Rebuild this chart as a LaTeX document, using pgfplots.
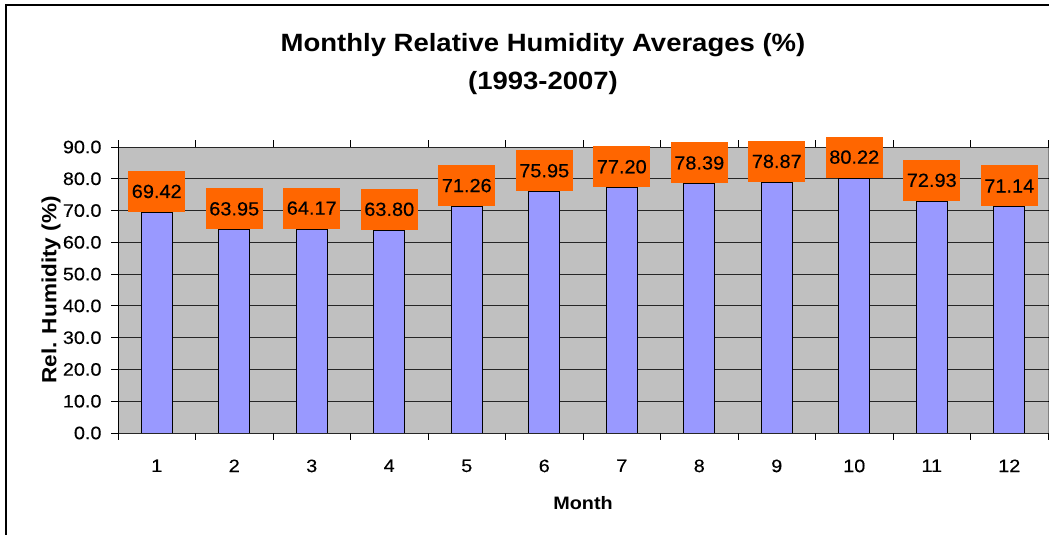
\documentclass[border=0pt]{standalone}
\usepackage{pgfplots}
\pgfplotsset{compat=1.18}
\usepackage{fontspec}
\setmainfont{Liberation Sans}[FakeStretch=1.1]
\newfontfamily\lblfont{Liberation Sans}[FakeStretch=1.05, FakeBold=0.4]
\newfontfamily\numfont{Liberation Sans}[FakeStretch=1.1, FakeBold=0.3]
\definecolor{plotgray}{HTML}{C0C0C0}
\definecolor{barblue}{HTML}{9999FF}
\definecolor{lblorange}{HTML}{FF6600}
\begin{document}
\begin{tikzpicture}[x=1pt,y=1pt]
\path[use as bounding box] (0,0) rectangle (1049,535);
\draw[line width=1.6pt, line cap=rect] (6,0) -- (6,530) -- (1049,530);
\node[font=\bfseries\fontsize{25}{30}\selectfont] at (543,490) {Monthly Relative Humidity Averages (\%)};
\node[font=\bfseries\fontsize{25}{30}\selectfont] at (543,452) {(1993-2007)};
\begin{axis}[
  at={(118pt,102pt)}, anchor=south west,
  scale only axis, width=930pt, height=286pt,
  xmin=0.5, xmax=12.5, ymin=0, ymax=90,
  axis background/.style={fill=plotgray, draw=gray},
  axis line style={draw=none},
  xtick={1,...,12},
  major x tick style={draw=none},
  minor xtick={0.5,1.5,...,12.5},
  ytick={0,10,...,90},
  tick align=outside,
  major tick length=7pt, minor tick length=7pt,
  tick style={black, line width=0.8pt},
  ymajorgrids, grid style={black!85, line width=0.8pt},
  /pgf/number format/assume math mode=true,
  yticklabel={\pgfmathprintnumber[fixed,fixed zerofill,precision=1]{\tick}},
  tick label style={font=\numfont\fontsize{18}{21}\selectfont},
  yticklabel style={xshift=-6pt},
  xticklabel style={yshift=-16pt},
  xlabel={Month}, ylabel={Rel. Humidity (\%)},
  xlabel style={font=\bfseries\fontsize{18}{21}\selectfont, at={(axis description cs:0.5,0)}, anchor=center, yshift=-70pt},
  ylabel style={font=\bfseries\fontsize{20.5}{24}\selectfont, at={(axis description cs:0,0.5)}, anchor=center, yshift=67pt},
  ybar, bar width=31pt,
  point meta=explicit symbolic,
  nodes near coords,
  every node near coord/.style={anchor=south, fill=lblorange, text=black, inner xsep=3.5pt, inner ysep=0pt, minimum height=41pt, font=\lblfont\fontsize{19}{23}\selectfont, yshift=0pt},
]
\addplot[fill=barblue, draw=black, line width=0.9pt] coordinates {
(1,69.42) [69.42]
(2,63.95) [63.95]
(3,64.17) [64.17]
(4,63.80) [63.80]
(5,71.26) [71.26]
(6,75.95) [75.95]
(7,77.20) [77.20]
(8,78.39) [78.39]
(9,78.87) [78.87]
(10,80.22) [80.22]
(11,72.93) [72.93]
(12,71.14) [71.14]
};
\draw[black, line width=0.9pt] (rel axis cs:0,1) -- (rel axis cs:0,0) -- (rel axis cs:1,0);
\end{axis}
\end{tikzpicture}
\end{document}
